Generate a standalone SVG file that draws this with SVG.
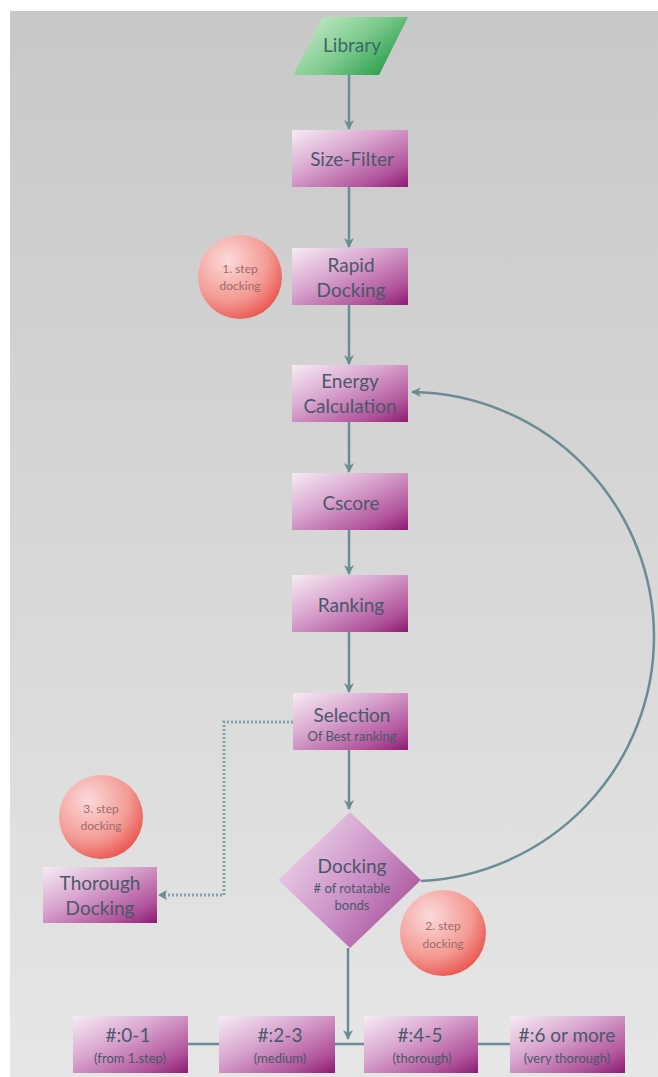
<svg xmlns="http://www.w3.org/2000/svg" width="658" height="1077" viewBox="0 0 658 1077">
<defs>
<linearGradient id="bg" x1="0" y1="0" x2="0" y2="1">
<stop offset="0" stop-color="#c8c8c8"/>
<stop offset="1" stop-color="#e6e6e6"/>
</linearGradient>
<linearGradient id="box" x1="0" y1="0" x2="1" y2="1">
<stop offset="0" stop-color="#f6ecf4"/>
<stop offset="0.4" stop-color="#d9a6cf"/>
<stop offset="0.8" stop-color="#b0529a"/>
<stop offset="1" stop-color="#8c1a72"/>
</linearGradient>
<linearGradient id="dia" x1="0" y1="0.3" x2="1" y2="1">
<stop offset="0" stop-color="#ecd2e8"/>
<stop offset="0.5" stop-color="#c98cc4"/>
<stop offset="1" stop-color="#9a3a88"/>
</linearGradient>
<linearGradient id="lib" x1="0" y1="0" x2="1" y2="0.6">
<stop offset="0" stop-color="#d4f0d4"/>
<stop offset="0.6" stop-color="#7cca8c"/>
<stop offset="1" stop-color="#2ea050"/>
</linearGradient>
<radialGradient id="circ" cx="0.35" cy="0.3" r="0.8">
<stop offset="0" stop-color="#fadada"/>
<stop offset="0.6" stop-color="#f49a94"/>
<stop offset="1" stop-color="#e84a44"/>
</radialGradient>
<marker id="arr" viewBox="0 0 10 10" refX="9" refY="5" markerWidth="4" markerHeight="4" orient="auto" markerUnits="strokeWidth">
<path d="M0,0 L10,5 L0,10 L3,5 Z" fill="#6a8c94"/>
</marker>
<marker id="arrd" viewBox="0 0 10 10" refX="9" refY="5" markerWidth="4" markerHeight="4" orient="auto" markerUnits="strokeWidth">
<path d="M0,0 L10,5 L0,10 L3,5 Z" fill="#6a8c94"/>
</marker>
</defs>
<style>
.t{font-family:Lato,"Open Sans",sans-serif;fill:#4a5868;text-anchor:middle}
.big{font-size:19px}
.sm{font-size:13px}
.ct{font-family:Lato,"Open Sans",sans-serif;fill:#a06a6a;text-anchor:middle;font-size:12px}
.ln{stroke:#6a8c94;stroke-width:2.5;fill:none}
.dot{stroke:#7fa2b2;stroke-width:3;fill:none;stroke-dasharray:2 2}
</style>
<rect x="10" y="11" width="648" height="1066" fill="url(#bg)"/>

<g id="connectors">
<line class="ln" x1="349" y1="75" x2="349" y2="129" marker-end="url(#arr)"/>
<line class="ln" x1="349" y1="187" x2="349" y2="247" marker-end="url(#arr)"/>
<line class="ln" x1="349" y1="305" x2="349" y2="364" marker-end="url(#arr)"/>
<line class="ln" x1="349" y1="422" x2="349" y2="472" marker-end="url(#arr)"/>
<line class="ln" x1="349" y1="530" x2="349" y2="574" marker-end="url(#arr)"/>
<line class="ln" x1="349" y1="632" x2="349" y2="692" marker-end="url(#arr)"/>
<line class="ln" x1="349" y1="750" x2="349" y2="809" marker-end="url(#arr)"/>
<line class="ln" x1="348" y1="948" x2="348" y2="1039" marker-end="url(#arr)"/>
<line class="ln" x1="188" y1="1044" x2="219" y2="1044"/>
<line class="ln" x1="335" y1="1044" x2="364" y2="1044"/>
<line class="ln" x1="478" y1="1044" x2="510" y2="1044"/>
<path class="ln" d="M421,881 A245,245 0 0 0 654,637 A245,245 0 0 0 412,392" marker-end="url(#arr)"/>
<path class="dot" d="M293,722 H224 V895 H162"/>
<path d="M158,895 L167,890 L165,895 L167,900 Z" fill="#6a8c94"/>
</g>

<g id="library">
<polygon points="323,17 408,17 379,75 293,75" fill="url(#lib)"/>
<text class="t big" x="352" y="52" fill="#3a6a64" style="fill:#3a6a64">Library</text>
</g>

<g id="size-filter">
<rect x="292" y="130" width="116" height="57" fill="url(#box)"/>
<text class="t big" x="352" y="166">Size-Filter</text>
</g>

<g id="step1">
<circle cx="240" cy="277" r="42" fill="url(#circ)"/>
<text class="ct" x="240" y="273">1. step</text>
<text class="ct" x="240" y="290">docking</text>
</g>

<g id="rapid-docking">
<rect x="292" y="248" width="116" height="57" fill="url(#box)"/>
<text class="t big" x="351" y="272">Rapid</text>
<text class="t big" x="351" y="297">Docking</text>
</g>

<g id="energy">
<rect x="292" y="365" width="116" height="57" fill="url(#box)"/>
<text class="t big" x="350" y="388">Energy</text>
<text class="t big" x="350" y="413">Calculation</text>
</g>

<g id="cscore">
<rect x="292" y="473" width="116" height="57" fill="url(#box)"/>
<text class="t big" x="351" y="510">Cscore</text>
</g>

<g id="ranking">
<rect x="292" y="575" width="116" height="57" fill="url(#box)"/>
<text class="t big" x="351" y="612">Ranking</text>
</g>

<g id="selection">
<rect x="293" y="693" width="115" height="57" fill="url(#box)"/>
<text class="t big" x="352" y="722">Selection</text>
<text class="t sm" x="352" y="741">Of Best ranking</text>
</g>

<g id="step3">
<circle cx="101" cy="817" r="42" fill="url(#circ)"/>
<text class="ct" x="101" y="813">3. step</text>
<text class="ct" x="101" y="830">docking</text>
</g>

<g id="thorough">
<rect x="43" y="867" width="114" height="56" fill="url(#box)"/>
<text class="t big" x="100" y="890">Thorough</text>
<text class="t big" x="100" y="915">Docking</text>
</g>

<g id="docking-decision">
<polygon points="350,812 421,880 350,948 278,880" fill="url(#dia)"/>
<text class="t big" x="352" y="873">Docking</text>
<text class="t sm" x="352" y="893"># of rotatable</text>
<text class="t sm" x="352" y="910">bonds</text>
</g>

<g id="step2">
<circle cx="443" cy="933" r="43" fill="url(#circ)"/>
<text class="ct" x="443" y="930">2. step</text>
<text class="ct" x="443" y="948">docking</text>
</g>

<g id="b01">
<rect x="73" y="1016" width="115" height="57" fill="url(#box)"/>
<text class="t big" x="128" y="1042">#:0-1</text>
<text class="t sm" x="130" y="1063">(from 1.step)</text>
</g>

<g id="b23">
<rect x="219" y="1016" width="116" height="57" fill="url(#box)"/>
<text class="t big" x="280" y="1042">#:2-3</text>
<text class="t sm" x="280" y="1063">(medium)</text>
</g>

<g id="b45">
<rect x="364" y="1016" width="114" height="57" fill="url(#box)"/>
<text class="t big" x="420" y="1042">#:4-5</text>
<text class="t sm" x="422" y="1063">(thorough)</text>
</g>

<g id="b6">
<rect x="510" y="1016" width="115" height="57" fill="url(#box)"/>
<text class="t big" x="567" y="1042">#:6 or more</text>
<text class="t sm" x="567" y="1063">(very thorough)</text>
</g>
</svg>
